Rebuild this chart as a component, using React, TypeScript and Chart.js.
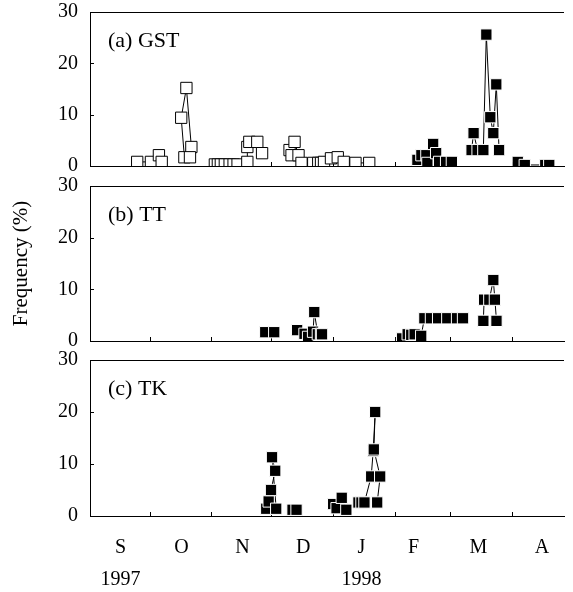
import React, { useEffect, useRef } from 'react';
import { Chart, registerables } from 'chart.js';

Chart.register(...registerables);

const FONT = "'Liberation Serif', 'Times New Roman', Times, serif";

// x axis: days since 1 September 1997
const X_MAX = 238;
const monthStartDays = [30, 61, 91, 122, 153, 181, 212];
const monthLabelDays = [15.3, 45.9, 76.5, 107, 136.3, 162.5, 195, 227];
const monthLabels = ['S', 'O', 'N', 'D', 'J', 'F', 'M', 'A'];
const yearLabels = ['1997', '', '', '', '1998', '', '', ''];
const yTicks = [0, 10, 20, 30];

// (a) GST – open squares (Sep–Dec)
const gstOpenDays = [23.7, 30.6, 34.6, 36.0, 41, 47.4, 45.8, 48.4, 50.9, 50.2, 56, 62.7, 64.2, 65.7, 67.7, 70.1, 72.1, 74.1, 79.0, 79.0, 80.0, 84.0, 86.4, 93, 100.2, 101.2, 102.7, 104.7, 106.2, 112.1, 114.6, 116.0, 117.5, 121.0, 124.4, 127.4, 133.3, 140.2];
const gstOpenValues = [0.8, 0.8, 2.1, 0.8, null, 1.7, 9.4, 15.2, 3.7, 1.7, null, 0.3, 0.3, 0.3, 0.3, 0.3, 0.3, 0.3, 0.8, 3.7, 4.7, 4.7, 2.5, null, 3.1, 2.1, 4.7, 2.1, 0.6, 0.6, 0.6, 0.6, 0.8, 1.5, 1.7, 0.8, 0.6, 0.6];
// (a) GST – filled squares (Feb–Apr)
const gstFilledDays = [164.4, 166.4, 168.9, 169.4, 172.3, 173.8, 175.3, 178.8, 181.7, 186, 191.6, 192.6, 194.6, 197.5, 199.0, 201.0, 202.5, 204.0, 205.4, 210, 214.8, 218.3, 228.6, 230.6];
const gstFilledValues = [1.2, 2.1, 2.1, 0.6, 4.3, 2.5, 0.8, 0.8, 0.8, null, 3.1, 6.4, 3.1, 3.1, 25.6, 9.5, 6.4, 15.9, 3.1, null, 0.8, 0.2, 0.2, 0.2];

// (b) TT
const ttDays = [88.0, 92.5, 98, 104.0, 107.7, 109.5, 112.0, 112.6, 114.4, 116.0, 116.5, 135, 156.7, 159.5, 161.3, 163.0, 166.3, 167.9, 171.2, 174.8, 179.4, 184.3, 187.3, 192, 197.5, 197.9, 200.5, 202.5, 203.3, 204.1];
const ttValues = [1.7, 1.7, null, 2.1, 1.4, 0.8, 1.8, 5.6, 1.3, 1.4, 1.3, null, 0.5, 1.3, 1.2, 1.3, 1.0, 4.4, 4.4, 4.4, 4.4, 4.4, 4.4, null, 3.9, 8.0, 8.0, 11.8, 8.0, 3.9];

// (c) TK
const tkDays = [88.5, 89.7, 90.9, 93.0, 91.4, 93.5, 97, 101.7, 103.7, 112, 122.1, 123.8, 126.4, 128.7, 131, 134.8, 136.3, 137.8, 141.2, 142.2, 143.2, 142.5, 145.7, 144.2];
const tkValues = [1.4, 2.8, 5.0, 8.7, 11.3, 1.4, null, 1.2, 1.2, null, 2.3, 1.5, 3.5, 1.2, null, 2.6, 2.6, 2.6, 7.6, 12.5, 20.0, 12.8, 7.6, 2.6];

const toPoints = (days: number[], vals: (number | null)[]) =>
  days.map((d, i) => ({ x: d, y: vals[i] }));

const makeDataset = (days: number[], vals: (number | null)[], filled: boolean) => ({
  data: toPoints(days, vals),
  showLine: true,
  spanGaps: false,
  borderColor: '#000',
  borderWidth: 1,
  backgroundColor: filled ? '#000' : '#fff',
  fill: false,
  tension: 0,
  pointStyle: 'rect',
  pointRadius: 8,
  pointBackgroundColor: filled ? '#000' : '#fff',
  pointBorderColor: filled ? '#fff' : '#000',
  pointBorderWidth: 1,
});

const framePlugin = (label: string) => ({
  id: 'frame',
  beforeDatasetsDraw(chart: any) {
    const { ctx, chartArea } = chart;
    const { left, right, top, bottom } = chartArea;
    const xs = chart.scales.x;
    const ys = chart.scales.y;
    ctx.save();
    ctx.strokeStyle = '#000';
    ctx.lineWidth = 1;
    ctx.beginPath();
    ctx.moveTo(left, Math.round(top) + 0.5);
    ctx.lineTo(right, Math.round(top) + 0.5);
    for (const d of monthStartDays) {
      const px = Math.round(xs.getPixelForValue(d)) + 0.5;
      ctx.moveTo(px, bottom);
      ctx.lineTo(px, bottom - 4);
    }
    for (const v of yTicks) {
      const py = Math.round(ys.getPixelForValue(v)) + 0.5;
      ctx.moveTo(left, py);
      ctx.lineTo(left + 4, py);
    }
    ctx.stroke();
    ctx.fillStyle = '#000';
    ctx.font = `22px ${FONT}`;
    ctx.textAlign = 'left';
    ctx.textBaseline = 'middle';
    ctx.fillText(label, left + 18, top + 29);
    ctx.restore();
  },
});

type PanelProps = {
  top: number;
  height: number;
  axisHeight: number;
  label: string;
  datasets: any[];
  showMonths?: boolean;
  yTitle?: string;
};

function Panel(props: PanelProps) {
  const ref = useRef<HTMLCanvasElement>(null);
  useEffect(() => {
    const canvas = ref.current as HTMLCanvasElement;
    const xTicks = props.showMonths
      ? {
          display: true,
          color: '#000',
          autoSkip: false,
          maxRotation: 0,
          minRotation: 0,
          padding: 16,
          font: { family: FONT, size: 20, lineHeight: 1.6 },
          callback: (_v: any, i: number) =>
            yearLabels[i] ? [monthLabels[i], yearLabels[i]] : monthLabels[i],
        }
      : { display: false };
    const chart = new Chart(canvas, {
      type: 'line',
      data: { datasets: props.datasets },
      options: {
        responsive: false,
        animation: false,
        events: [],
        layout: { padding: { top: 12, right: 0, left: 0, bottom: 0 } },
        plugins: {
          legend: { display: false },
          tooltip: { enabled: false },
          title: { display: false },
        },
        scales: {
          x: {
            type: 'linear',
            min: 0,
            max: X_MAX,
            grid: { display: false, drawTicks: false },
            border: { display: true, color: '#000', width: 1 },
            ticks: xTicks as any,
            afterBuildTicks: props.showMonths
              ? (s: any) => {
                  s.ticks = monthLabelDays.map((v) => ({ value: v }));
                }
              : undefined,
            afterFit: (s: any) => {
              s.height = props.axisHeight;
              s.paddingLeft = 0;
              s.paddingRight = 0;
            },
          },
          y: {
            type: 'linear',
            min: 0,
            max: 30,
            grid: { display: false, drawTicks: false },
            border: { display: true, color: '#000', width: 1 },
            afterBuildTicks: (s: any) => {
              s.ticks = yTicks.map((v) => ({ value: v }));
            },
            ticks: {
              color: '#000',
              font: { family: FONT, size: 20, lineHeight: 1 },
              padding: 12,
            },
            title: props.yTitle
              ? {
                  display: true,
                  text: props.yTitle,
                  color: '#000',
                  font: { family: FONT, size: 21 },
                  padding: { top: 9, bottom: 0 },
                }
              : { display: false },
            afterFit: (s: any) => {
              s.width = 90;
              s.paddingTop = 0;
              s.paddingBottom = 0;
            },
          },
        },
      } as any,
      plugins: [framePlugin(props.label)],
    });
    return () => chart.destroy();
  }, []);
  return (
    <canvas
      ref={ref}
      width={573}
      height={props.height}
      style={{ position: 'absolute', left: 0, top: props.top, display: 'block' }}
    />
  );
}

export default function App() {
  const gstSets = [
    makeDataset(gstOpenDays, gstOpenValues, false),
    makeDataset(gstFilledDays, gstFilledValues, true),
  ];
  const ttSets = [makeDataset(ttDays, ttValues, true)];
  const tkSets = [makeDataset(tkDays, tkValues, true)];
  return (
    <div
      style={{
        position: 'fixed',
        left: 0,
        top: 0,
        width: 573,
        height: 592,
        background: '#fff',
        overflow: 'hidden',
      }}
    >
      <Panel top={0} height={180} axisHeight={14} label="(a) GST" datasets={gstSets} />
      <Panel top={174} height={180} axisHeight={13} label="(b) TT" datasets={ttSets} yTitle="Frequency (%)" />
      <Panel top={348} height={244} axisHeight={76} label="(c) TK" datasets={tkSets} showMonths />
    </div>
  );
}
